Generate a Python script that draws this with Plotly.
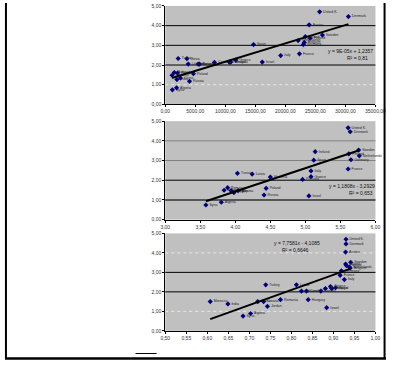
import plotly.graph_objects as go

W, H = 397, 388

# ---------- Chart 1: index vs GDP per capita ----------
c1_names = ["United K.", "Denmark", "Austria", "Sweden", "Ireland", "Finland", "Netherlands",
            "Belgium", "Germany", "Spain", "Italy", "France", "Israel", "Greece", "Portugal",
            "Slovenia", "Tunisia", "Latvia", "Lithuania", "Hungary", "Estonia", "Czech R.",
            "Poland", "Morocco", "Romania", "Bulgaria", "China", "India", "Russia", "Algeria", "Syria"]
c1_x = [25700, 30500, 23960, 26170, 23315, 24123, 22130, 23154, 22992, 14700, 19223, 22346,
        16154, 11738, 10662, 10900, 2154, 3608, 3823, 5492, 5700, 8185, 4685, 1131, 2046,
        1500, 2531, 1938, 4038, 1885, 1185]
c1_y = [4.70, 4.46, 4.04, 3.52, 3.44, 3.36, 3.24, 3.15, 3.04, 3.04, 2.48, 2.57, 2.15, 2.25,
        2.15, 2.15, 2.33, 2.32, 2.05, 2.05, 2.05, 2.13, 1.56, 1.48, 1.59, 1.62, 1.34, 1.26,
        1.17, 0.84, 0.74]
c1_slope, c1_icpt = 9.3e-05, 1.24
c1_eq, c1_r2 = "y = 9E-05x + 1,2357", "R² = 0,81"
c1_ticks = [0, 5000, 10000, 15000, 20000, 25000, 30000, 35000]
c1_ticktext = ["0,00", "5000,00", "10000,00", "15000,00", "20000,00", "25000,00", "30000,00", "35000,00"]

# ---------- Chart 2 ----------
c2_names = ["United K.", "Denmark", "Ireland", "Sweden", "Finland", "Netherlands", "Spain",
            "Germany", "France", "Italy", "Greece", "Portugal", "Slovenia", "Tunisia", "Latvia",
            "Poland", "Russia", "Israel", "Romania", "Bulgaria", "Hungary", "FYR", "Albania",
            "Algeria", "Syria"]
c2_x = [5.61, 5.64, 5.14, 5.76, 5.62, 5.77, 5.12, 5.65, 5.61, 5.08, 5.08, 4.96, 4.50, 4.03,
        4.24, 4.44, 4.41, 5.05, 3.89, 3.84, 3.94, 3.98, 4.04, 3.80, 3.58]
c2_y = [4.66, 4.46, 3.45, 3.53, 3.34, 3.24, 3.02, 3.04, 2.57, 2.47, 2.18, 2.04, 2.16, 2.35,
        2.31, 1.59, 1.25, 1.20, 1.62, 1.49, 1.47, 1.37, 1.47, 0.88, 0.74]
c2_slope, c2_icpt = 1.1808, -3.2929
c2_eq, c2_r2 = "y = 1,1808x - 3,2929", "R² = 0,653"
c2_ticks = [3.0, 3.5, 4.0, 4.5, 5.0, 5.5, 6.0]
c2_ticktext = ["3,00", "3,50", "4,00", "4,50", "5,00", "5,50", "6,00"]

# ---------- Chart 3 ----------
c3_names = ["United K.", "Denmark", "Austria", "Sweden", "Ireland", "Finland", "Netherlands",
            "Belgium", "Germany", "France", "Italy", "Greece", "Spain", "Portugal", "Slovenia",
            "Latvia", "Czech R.", "Lithuania", "Estonia", "Hungary", "Turkey", "China",
            "Croatia", "Romania", "Jordan", "Syria", "Algeria", "Morocco", "India", "Israel"]
c3_x = [0.930, 0.930, 0.929, 0.941, 0.929, 0.931, 0.938, 0.940, 0.919, 0.916, 0.926, 0.893,
        0.905, 0.896, 0.881, 0.812, 0.836, 0.824, 0.870, 0.840, 0.739, 0.720, 0.734, 0.774,
        0.743, 0.685, 0.703, 0.607, 0.649, 0.884]
c3_y = [4.70, 4.46, 4.04, 3.52, 3.43, 3.35, 3.27, 3.22, 3.08, 2.85, 2.63, 2.27, 2.21, 2.17,
        2.17, 2.36, 2.04, 2.04, 2.04, 1.60, 2.36, 1.50, 1.50, 1.60, 1.26, 0.76, 0.89, 1.50,
        1.38, 1.19]
c3_slope, c3_icpt = 7.7581, -4.1085
c3_eq, c3_r2 = "y = 7,7581x - 4,1085", "R² = 0,6646"
c3_ticks = [0.50, 0.55, 0.60, 0.65, 0.70, 0.75, 0.80, 0.85, 0.90, 0.95, 1.00]
c3_ticktext = ["0,50", "0,55", "0,60", "0,65", "0,70", "0,75", "0,80", "0,85", "0,90", "0,95", "1,00"]

y_ticks = [0, 1, 2, 3, 4, 5]
y_ticktext = ["0,00", "1,00", "2,00", "3,00", "4,00", "5,00"]

FONT = "Liberation Sans, Arial, sans-serif"


def px_x(p):
    return p / W


def px_y(p):
    return 1 - p / H


fig = go.Figure()

charts = [
    (c1_names, c1_x, c1_y, c1_slope, c1_icpt, c1_eq, c1_r2, c1_ticks, c1_ticktext, [0, 35000], (3, 103)),
    (c2_names, c2_x, c2_y, c2_slope, c2_icpt, c2_eq, c2_r2, c2_ticks, c2_ticktext, [3.0, 6.0], (120, 220)),
    (c3_names, c3_x, c3_y, c3_slope, c3_icpt, c3_eq, c3_r2, c3_ticks, c3_ticktext, [0.5, 1.0], (234, 333)),
]

eq_pos = [((386, 49), (380, 56)), ((388, 186), (386, 193)), ((330, 244), (318, 251))]
grid_styles = [
    {1: ("#e8e8e8", 1, "dot"), 2: ("black", 1, "solid"), 3: ("black", 1, "solid"), 4: ("black", 1, "solid")},
    {1: ("#555555", 2, "solid"), 2: ("black", 1, "solid"), 3: ("#808080", 1, "solid"), 4: ("#808080", 1, "solid")},
    {1: ("#e8e8e8", 1, "dot"), 2: ("black", 1, "solid"), 3: ("black", 1, "solid"), 4: ("#e8e8e8", 1, "dot")},
]

shapes = []
annotations = []
for i, (names, xs, ys, slope, icpt, eq, r2, ticks, ticktext, xr, (ytop, ybot)) in enumerate(charts):
    n = "" if i == 0 else str(i + 1)
    xa, ya = "x" + n, "y" + n
    fig.add_trace(go.Scatter(
        x=xs, y=ys, mode="markers+text", text=names, textposition="middle right",
        textfont=dict(size=3.5, color="#222222", family=FONT),
        marker=dict(symbol="diamond", size=4, color="#000080"),
        xaxis=xa, yaxis=ya, showlegend=False, cliponaxis=False))
    x0, x1 = min(xs), max(xs)
    fig.add_trace(go.Scatter(
        x=[x0, x1], y=[slope * x0 + icpt, slope * x1 + icpt], mode="lines",
        line=dict(color="black", width=2), xaxis=xa, yaxis=ya, showlegend=False))
    axis_common = dict(showgrid=False, zeroline=False, showline=True, linecolor="black", linewidth=1,
                       ticks="outside", ticklen=2, tickcolor="black",
                       tickfont=dict(size=5, color="#333333", family=FONT))
    fig.update_layout(**{
        ("xaxis" + n): dict(domain=[px_x(167), px_x(386)], range=xr, tickvals=ticks, ticktext=ticktext,
                            anchor=ya, **axis_common),
        ("yaxis" + n): dict(domain=[px_y(ybot), px_y(ytop)], range=[0, 5], tickvals=y_ticks,
                            ticktext=y_ticktext, anchor=xa, **axis_common),
    })
    for yv, (col, wd, dash) in grid_styles[i].items():
        shapes.append(dict(type="line", xref=xa + " domain", yref=ya, x0=0, x1=1, y0=yv, y1=yv,
                           line=dict(color=col, width=wd, dash=dash), layer="below"))
    (ex, ey), (rx, ry) = eq_pos[i]
    annotations.append(dict(text=eq, xref="paper", yref="paper", x=px_x(ex), y=px_y(ey),
                            xanchor="right", yanchor="middle", showarrow=False,
                            font=dict(size=5, color="#111111", family=FONT)))
    annotations.append(dict(text=r2, xref="paper", yref="paper", x=px_x(rx), y=px_y(ry),
                            xanchor="right", yanchor="middle", showarrow=False,
                            font=dict(size=5, color="#111111", family=FONT)))

# page frame
shapes += [
    dict(type="line", xref="paper", yref="paper", x0=px_x(1), x1=px_x(1), y0=px_y(361), y1=1,
         line=dict(color="black", width=2)),
    dict(type="line", xref="paper", yref="paper", x0=px_x(395.5), x1=px_x(395.5), y0=px_y(361), y1=1,
         line=dict(color="black", width=2)),
    dict(type="line", xref="paper", yref="paper", x0=0, x1=1, y0=px_y(361), y1=px_y(361),
         line=dict(color="black", width=2.5)),
    dict(type="line", xref="paper", yref="paper", x0=px_x(136), x1=px_x(158), y0=px_y(356), y1=px_y(356),
         line=dict(color="black", width=1)),
]

fig.update_layout(
    width=W, height=H, margin=dict(l=0, r=0, t=0, b=0),
    paper_bgcolor="white", plot_bgcolor="#c0c0c0",
    shapes=shapes, annotations=annotations,
)

fig.write_html("out.html", config={"displayModeBar": False},
               post_script="document.body.style.margin='0';")
